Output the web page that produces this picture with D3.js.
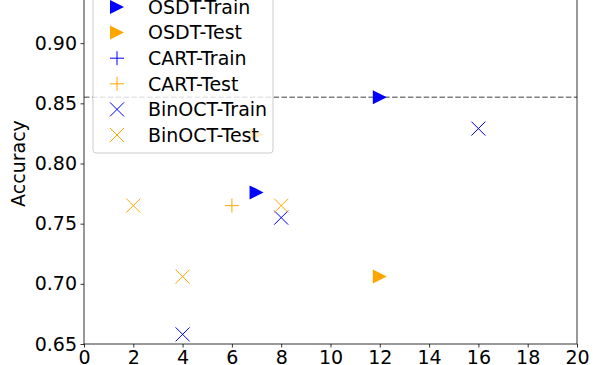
<!DOCTYPE html>
<html>
<head>
<meta charset="utf-8">
<script src="https://cdn.jsdelivr.net/npm/d3@7"></script>
<style>
body{margin:0;background:#fff;}
svg{display:block;font-family:"DejaVu Sans",sans-serif;}
</style>
</head>
<body>
<div id="chart"></div>
<script>
// values: [depth, accuracy]
const osdtTrain=[[7,0.776],[12,0.855]];
const osdtTest=[[7,0.824],[12,0.706]];
const cartTrain=[];
const cartTest=[[6,0.765]];
const binoctTrain=[[4,0.658],[8,0.755],[16,0.829]];
const binoctTest=[[2,0.765],[4,0.706],[8,0.765]];
const refLine=0.855;
const xTicks=[0,2,4,6,8,10,12,14,16,18,20];
const yTicks=[0.65,0.70,0.75,0.80,0.85,0.90];
const seriesNames=["OSDT-Train","OSDT-Test","CART-Train","CART-Test","BinOCT-Train","BinOCT-Test"];

const width=598,height=365;
const margin={top:-17,right:21,bottom:21,left:84};
const blue="#0000ff",orange="#ffa500";
const fs=19;

const svg=d3.select("#chart").append("svg")
    .attr("width",width).attr("height",height);

const x=d3.scaleLinear().domain([0,20]).range([margin.left,width-margin.right]);
const y=d3.scaleLinear().domain([0.65,0.95]).range([height-margin.bottom,margin.top]);

// reference line
svg.append("line")
    .attr("x1",x(0)).attr("x2",x(20))
    .attr("y1",y(refLine)).attr("y2",y(refLine))
    .attr("stroke","#808080").attr("stroke-width",1.6)
    .attr("stroke-dasharray","5.5,2.4");

function marker(g,shape,color){
    if(shape==="tri"){
        g.append("path").attr("d","M7,0L-7,-7L-7,7Z").attr("fill",color);
    } else if(shape==="plus"){
        g.append("path").attr("d","M-7,0H7M0,-7V7").attr("stroke",color).attr("stroke-width",1).attr("fill","none");
    } else {
        g.append("path").attr("d","M-7,-7L7,7M-7,7L7,-7").attr("stroke",color).attr("stroke-width",1).attr("fill","none");
    }
}

const series=[
    {data:osdtTrain,shape:"tri",color:blue},
    {data:osdtTest,shape:"tri",color:orange},
    {data:cartTrain,shape:"plus",color:blue},
    {data:cartTest,shape:"plus",color:orange},
    {data:binoctTrain,shape:"x",color:blue},
    {data:binoctTest,shape:"x",color:orange}
];

series.forEach(s=>{
    svg.append("g").selectAll("g")
        .data(s.data).enter().append("g")
        .attr("transform",d=>`translate(${x(d[0])},${y(d[1])})`)
        .each(function(){marker(d3.select(this),s.shape,s.color);});
});

// axes
const xAxis=svg.append("g")
    .attr("transform",`translate(0,${y(0.65)})`)
    .call(d3.axisBottom(x).tickValues(xTicks).tickFormat(d3.format("d")).tickSize(3.5).tickPadding(3.5));
const yAxis=svg.append("g")
    .attr("transform",`translate(${x(0)},0)`)
    .call(d3.axisLeft(y).tickValues(yTicks).tickFormat(d3.format(".2f")).tickSize(3.5).tickPadding(3.5));
[xAxis,yAxis].forEach(a=>{
    a.selectAll("text").attr("font-size",fs).attr("fill","#000").attr("font-family","DejaVu Sans");
    a.selectAll("line").attr("stroke","#000").attr("stroke-width",0.8);
    a.select(".domain").remove();
});
// spines
svg.append("rect")
    .attr("x",x(0)).attr("y",y(0.95))
    .attr("width",x(20)-x(0)).attr("height",y(0.65)-y(0.95))
    .attr("fill","none").attr("stroke","#000").attr("stroke-width",0.8);

svg.append("text")
    .attr("transform",`translate(25,${(y(0.65)+y(0.95))/2}) rotate(-90)`)
    .attr("text-anchor","middle")
    .attr("font-size",fs).attr("fill","#000")
    .text("Accuracy");

// legend
const rowH=25.6,firstRow=7;
const legend=svg.append("g");
legend.append("rect")
    .attr("x",93).attr("y",firstRow-rowH).attr("rx",3)
    .attr("width",180).attr("height",153-(firstRow-rowH))
    .attr("fill","#fff").attr("fill-opacity",0.8)
    .attr("stroke","#cccccc").attr("stroke-width",1);
seriesNames.forEach((name,i)=>{
    const row=legend.append("g").attr("transform",`translate(0,${firstRow+i*rowH})`);
    const m=row.append("g").attr("transform","translate(117,0)");
    marker(m,series[i].shape,series[i].color);
    row.append("text").attr("x",148).attr("y",0).attr("dy","0.36em")
        .attr("font-size",fs).attr("fill","#000").text(name);
});
</script>
</body>
</html>
